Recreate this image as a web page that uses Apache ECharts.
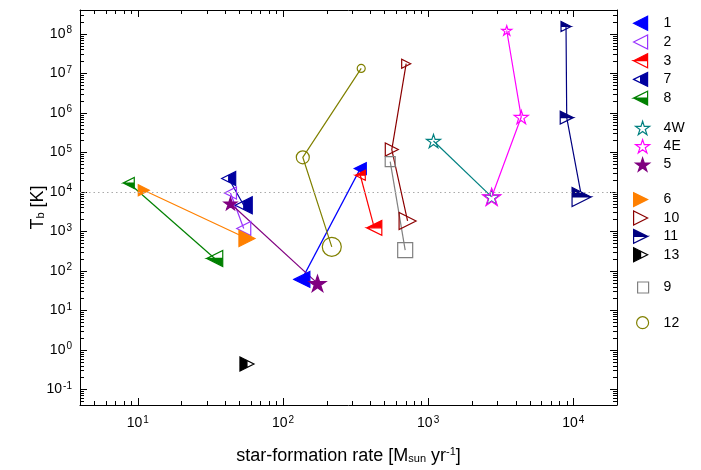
<!DOCTYPE html>
<html><head><meta charset="utf-8">
<script src="https://cdn.jsdelivr.net/npm/echarts@6/dist/echarts.min.js"></script>
<style>html,body{margin:0;padding:0;background:#fff}#c{width:701px;height:470px}</style>
</head><body><div id="c"></div>
<script>
// ---- data (star-formation rate [Msun/yr], brightness temperature [K]) ----
const sfr1 = [135, 341];            const tb1 = [60.5, 3.86e4];
const sfr2 = [43.5, 53.7];          const tb2 = [9.35e3, 1.18e3];
const sfr3 = [341, 426];            const tb3 = [2.62e4, 1.22e3];
const sfr7 = [42.3, 53.7];          const tb7 = [2.16e4, 4.57e3];
const sfr8 = [8.67, 33.9];          const tb8 = [1.67e4, 205];
const sfr4W = [1089, 2740];         const tb4W = [1.93e5, 7.41e3];
const sfr4E = [3480, 4380, 2740];   const tb4E = [1.21e8, 7.8e5, 7.41e3];
const sfr5 = [43.5, 173];           const tb5 = [5.05e3, 47.9];
const sfr6 = [11.0, 56.5];          const tb6 = [1.09e4, 658];
const sfr10 = [706, 562, 722];      const tb10 = [1.75e7, 1.17e5, 1.83e3];
const sfr11 = [8910, 9010, 11400];  const tb11 = [1.53e8, 7.53e5, 7.41e3];
const sfr13 = [56.5];               const tb13 = [0.438];
const sfr9 = [548, 695];            const tb9 = [5.8e4, 333];
const sfr12 = [346, 137, 217];      const tb12 = [1.33e7, 7.46e4, 404];
const refLineTb = 1e4;
const xRange = [4, 2e4];
const yRange = [0.04, 4e8];
const minorMult = [2, 3, 4, 5, 6, 7, 8, 9];
const xDecades = [1, 10, 100, 1000, 10000];
const yDecades = [0.01, 0.1, 1, 10, 100, 1e3, 1e4, 1e5, 1e6, 1e7, 1e8];

// ---- marker shapes ----
const P = {
  leftFull: 'path://M0,50L100,0L100,100Z',
  rightFull: 'path://M100,50L0,0L0,100Z',
  leftRightHalf: 'path://M0,50L100,0L100,100Z M0,50L50,75L50,25Z',
  leftTopHalf: 'path://M0,50L100,0L100,100Z M0,50L100,100L100,50Z',
  leftBottomHalf: 'path://M0,50L100,0L100,100Z M0,50L100,50L100,0Z',
  rightTopHalf: 'path://M100,50L0,0L0,100Z M100,50L0,100L0,50Z',
  rightLeftHalf: 'path://M100,50L0,0L0,100Z M100,50L50,75L50,25Z',
  star: 'path://M50,0L61.23,34.55L97.55,34.55L68.17,55.9L79.39,90.45L50,69.1L20.61,90.45L31.83,55.9L2.45,34.55L38.77,34.55Z'
};
const NONE = 'rgba(0,0,0,0)';
const defs = [
  {name:'1',  x:sfr1,  y:tb1,  c:'#0000ff', f:'#0000ff', s:P.leftFull,       sz:[16,12]},
  {name:'2',  x:sfr2,  y:tb2,  c:'#9933ff', f:NONE,      s:P.leftFull,       sz:[12,14]},
  {name:'3',  x:sfr3,  y:tb3,  c:'#ff0000', f:'#ff0000', s:P.leftTopHalf,    sz:[10,15]},
  {name:'7',  x:sfr7,  y:tb7,  c:'#0000a0', f:'#0000a0', s:P.leftRightHalf,  sz:[14,17]},
  {name:'8',  x:sfr8,  y:tb8,  c:'#008000', f:'#008000', s:P.leftBottomHalf, sz:[11,16]},
  {name:'4W', x:sfr4W, y:tb4W, c:'#008080', f:NONE,      s:P.star,           sz:[14,16]},
  {name:'4E', x:sfr4E, y:tb4E, c:'#ff00ff', f:NONE,      s:P.star,           sz:[10,14,18]},
  {name:'5',  x:sfr5,  y:tb5,  c:'#800080', f:'#800080', s:P.star,           sz:[13,17]},
  {name:'6',  x:sfr6,  y:tb6,  c:'#ff8000', f:'#ff8000', s:P.rightFull,      sz:[11,16]},
  {name:'10', x:sfr10, y:tb10, c:'#8b0000', f:NONE,      s:P.rightFull,      sz:[9,13,17]},
  {name:'11', x:sfr11, y:tb11, c:'#000080', f:'#000080', s:P.rightTopHalf,   sz:[10,13,19]},
  {name:'13', x:sfr13, y:tb13, c:'#000000', f:'#000000', s:P.rightLeftHalf,  sz:[14]},
  {name:'9',  x:sfr9,  y:tb9,  c:'#808080', f:NONE,      s:'rect',           sz:[10,15]},
  {name:'12', x:sfr12, y:tb12, c:'#808000', f:NONE,      s:'circle',         sz:[8,13,19]}
];

const FONT = 'Liberation Sans, Arial, sans-serif';
function powLabel(v) {
  const e = Math.round(Math.log10(v));
  const p = Math.pow(10, e);
  if (Math.abs(v - p) > 1e-6 * p) return '';
  return '{b|10}{s|' + e + '}';
}
const labelRich = { b: {fontSize: 14, color: '#000', fontFamily: FONT}, s: {fontSize: 10, color: '#000', fontFamily: FONT, padding: [0, 0, 7, 1]} };

const series = defs.map((d, k) => ({
  type: 'line', name: d.name,
  data: d.x.map((v, i) => [v, d.y[i]]),
  symbol: d.s,
  symbolKeepAspect: true,
  symbolSize: (val, p) => d.sz[p.dataIndex],
  showAllSymbol: true,
  itemStyle: {color: d.f, borderColor: d.c, borderWidth: 1.2},
  lineStyle: {color: d.c, width: 1.2},
  silent: true,
  z: 3,
  markLine: k === 0 ? {
    silent: true, symbol: 'none', label: {show: false},
    lineStyle: {type: [1.5, 3], color: '#aaaaaa', width: 1},
    data: [{yAxis: refLineTb}]
  } : undefined
}));

function inRange(v, r) { return v > r[0] * 1.0001 && v < r[1] * 0.9999; }
const xMinor = [], yMinor = [];
xDecades.forEach(d => minorMult.forEach(m => { if (inRange(d * m, xRange)) xMinor.push([d * m, 1]); }));
yDecades.forEach(d => minorMult.forEach(m => { if (inRange(d * m, yRange)) yMinor.push([10, d * m]); }));
const ML = 4;
series.push({
  type: 'custom', silent: true, clip: false, z: 5, data: xMinor,
  renderItem: (params, api) => {
    const cs = params.coordSys;
    const px = Math.round(api.coord([api.value(0), api.value(1)])[0]) + 0.5;
    return {type: 'group', children: [
      {type: 'line', shape: {x1: px, y1: cs.y + cs.height, x2: px, y2: cs.y + cs.height - ML}, style: {stroke: '#000', lineWidth: 1}},
      {type: 'line', shape: {x1: px, y1: cs.y, x2: px, y2: cs.y + ML}, style: {stroke: '#000', lineWidth: 1}}
    ]};
  }
});
series.push({
  type: 'custom', silent: true, clip: false, z: 5, data: yMinor,
  renderItem: (params, api) => {
    const cs = params.coordSys;
    const py = Math.round(api.coord([api.value(0), api.value(1)])[1]) + 0.5;
    return {type: 'group', children: [
      {type: 'line', shape: {x1: cs.x, y1: py, x2: cs.x + ML, y2: py}, style: {stroke: '#000', lineWidth: 1}},
      {type: 'line', shape: {x1: cs.x + cs.width, y1: py, x2: cs.x + cs.width - ML, y2: py}, style: {stroke: '#000', lineWidth: 1}}
    ]};
  }
});

function legendFor(names, top, left, iw, ih, gap, pad) {
  return {
    orient: 'vertical', left: left, top: top, padding: 0,
    itemWidth: iw, itemHeight: ih, itemGap: gap, selectedMode: false,
    itemStyle: {borderWidth: 1.2},
    textStyle: {fontSize: 14, color: '#000', fontFamily: FONT, lineHeight: ih, padding: [0, 0, 0, pad]},
    data: names.map(n => ({name: n, icon: defs.find(d => d.name === n).s}))
  };
}

const axisCommon = {
  type: 'log', logBase: 10,
  axisLine: {show: true, onZero: false, lineStyle: {color: '#000', width: 1}},
  axisTick: {show: true, inside: true, length: 7, lineStyle: {color: '#000', width: 1}},
  splitLine: {show: false}, minorTick: {show: false}, minorSplitLine: {show: false}
};

const option = {
  animation: false,
  textStyle: {fontFamily: FONT},
  grid: {left: 80, top: 10, width: 537, height: 396, containLabel: false},
  xAxis: [
    Object.assign({}, axisCommon, {
      min: xRange[0], max: xRange[1], position: 'bottom',
      axisLabel: {show: true, margin: 10, interval: 0, formatter: powLabel, rich: labelRich, showMinLabel: true, showMaxLabel: true},
      name: '{t|star-formation rate [M}{sub|sun}{t| yr}{sup|-1}{t|]}',
      nameLocation: 'middle', nameGap: 41, nameMoveOverlap: false,
      nameTextStyle: {rich: {
        t: {fontSize: 18, color: '#000', fontFamily: FONT, padding: [0, 0, 5, 0]},
        sub: {fontSize: 11, color: '#000', fontFamily: FONT},
        sup: {fontSize: 11, color: '#000', fontFamily: FONT, padding: [0, 0, 14, 0]}
      }}
    }),
    Object.assign({}, axisCommon, {min: xRange[0], max: xRange[1], position: 'top', axisLabel: {show: false}})
  ],
  yAxis: [
    Object.assign({}, axisCommon, {
      min: yRange[0], max: yRange[1], position: 'left', splitNumber: 10,
      axisLabel: {show: true, margin: 8, interval: 0, formatter: powLabel, rich: labelRich},
      name: '{t|T}{sub|b}{t| [K]}',
      nameLocation: 'middle', nameGap: 28, nameRotate: 90, nameMoveOverlap: false,
      nameTextStyle: {rich: {
        t: {fontSize: 18, color: '#000', fontFamily: FONT, padding: [0, 0, 5, 0]},
        sub: {fontSize: 11, color: '#000', fontFamily: FONT}
      }}
    }),
    Object.assign({}, axisCommon, {min: yRange[0], max: yRange[1], position: 'right', splitNumber: 10, axisLabel: {show: false}})
  ],
  legend: [
    legendFor(['1', '2', '3', '7', '8'], 15.7, 633, 14, 14, 3.5, 11),
    legendFor(['4W', '4E', '5'], 120.7, 635, 14, 14, 3.8, 9),
    legendFor(['6', '10', '11', '13'], 192, 633, 14, 14, 3.2, 11),
    legendFor(['9'], 280.5, 637, 11, 11, 3, 10),
    legendFor(['12'], 315.7, 636, 12, 12, 3, 10)
  ],
  series: series
};
const chart = echarts.init(document.getElementById('c'), null, {renderer: 'canvas'});
chart.setOption(option);
</script></body></html>
